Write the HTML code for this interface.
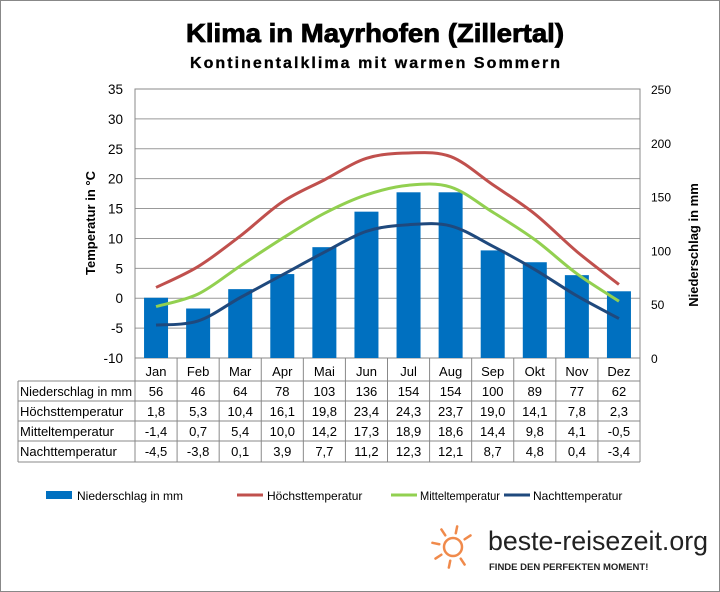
<!DOCTYPE html><html><head><meta charset="utf-8"><style>
body{margin:0;background:#fff;font-family:"Liberation Sans",sans-serif}
#w{position:relative;width:718px;height:590px;border:1px solid #888;overflow:hidden}
</style></head><body><div id="w">
<svg id="s" width="718" height="590" xmlns="http://www.w3.org/2000/svg" font-family="Liberation Sans, sans-serif"></svg>
</div>
<script>
const s=document.getElementById('s');let h='';
const L=134,R=639,T=88,B=357,cw=(R-L)/12;
const ty=t=>B-(t+10)*(B-T)/45, py=p=>B-p*(B-T)/250, cx=i=>L+cw*(i+0.5);
h+=`<text x="374" y="41" font-size="26" font-weight="bold" text-anchor="middle" stroke="#000" stroke-width="0.8" textLength="378" lengthAdjust="spacingAndGlyphs">Klima in Mayrhofen (Zillertal)</text>`;
h+=`<text x="374" y="67" font-size="16" font-weight="bold" text-anchor="middle" textLength="370" lengthAdjust="spacing" stroke="#000" stroke-width="0.3">Kontinentalklima  mit warmen Sommern</text>`;
for(let t=-10;t<=35;t+=5){let y=ty(t);h+=`<line x1="${L}" x2="${R}" y1="${y}" y2="${y}" stroke="#999" stroke-width="1"/>`;
h+=`<text x="122" y="${y+5}" font-size="13.5" text-anchor="end">${t}</text>`;}
for(let p=0;p<=250;p+=50){h+=`<text x="650" y="${py(p)+5}" font-size="12">${p}</text>`;}
h+=`<rect x="${L}" y="${T}" width="${R-L}" height="${B-T}" fill="none" stroke="#888"/>`;
const m=['Jan','Feb','Mar','Apr','Mai','Jun','Jul','Aug','Sep','Okt','Nov','Dez'];
const P=[56,46,64,78,103,136,154,154,100,89,77,62],H=[1.8,5.3,10.4,16.1,19.8,23.4,24.3,23.7,19.0,14.1,7.8,2.3],M=[-1.4,0.7,5.4,10.0,14.2,17.3,18.9,18.6,14.4,9.8,4.1,-0.5],N=[-4.5,-3.8,0.1,3.9,7.7,11.2,12.3,12.1,8.7,4.8,0.4,-3.4];
P.forEach((p,i)=>h+=`<rect x="${cx(i)-12}" y="${py(p)}" width="24" height="${B-py(p)}" fill="#0070c0"/>`);
function cur(a,c){let pts=a.map((v,i)=>[cx(i),ty(v)]);let d=`M${pts[0]}`;for(let i=0;i<pts.length-1;i++){let p0=pts[Math.max(0,i-1)],p1=pts[i],p2=pts[i+1],p3=pts[Math.min(pts.length-1,i+2)];let c1=[p1[0]+(p2[0]-p0[0])/6,p1[1]+(p2[1]-p0[1])/6],c2=[p2[0]-(p3[0]-p1[0])/6,p2[1]-(p3[1]-p1[1])/6];d+=`C${c1} ${c2} ${p2}`;}return `<path d="${d}" fill="none" stroke="${c}" stroke-width="3"/>`;}
h+=cur(H,'#c0504d')+cur(M,'#92d050')+cur(N,'#1f497d');
const rows=[['Niederschlag in mm',P],['Höchsttemperatur',H],['Mitteltemperatur',M],['Nachttemperatur',N]];
const ry=[358,380,400,420,440,461];
for(let i=0;i<=12;i++){let x=L+cw*i;h+=`<line x1="${x}" x2="${x}" y1="${B}" y2="${ry[5]}" stroke="#888"/>`;}
h+=`<line x1="17" x2="17" y1="${ry[1]}" y2="${ry[5]}" stroke="#888"/>`;
for(let j=1;j<6;j++)h+=`<line x1="17" x2="${R}" y1="${ry[j]}" y2="${ry[j]}" stroke="#888"/>`;
m.forEach((t,i)=>h+=`<text x="${cx(i)}" y="375" font-size="13" text-anchor="middle">${t}</text>`);
rows.forEach((r,j)=>{let y=ry[j+1]+15;h+=`<text x="19" y="${y}" font-size="13" ${j==0?'textLength="112" lengthAdjust="spacingAndGlyphs"':''}>${r[0]}</text>`;
r[1].forEach((v,i)=>h+=`<text x="${cx(i)}" y="${y}" font-size="13" text-anchor="middle">${String(v).includes('.')||j==0?String(v).replace('.',','):v+',0'}</text>`);});
h+=`<text transform="translate(94,222) rotate(-90)" font-size="13" font-weight="bold" text-anchor="middle">Temperatur in °C</text>`;
h+=`<text transform="translate(697,244) rotate(-90)" font-size="13" font-weight="bold" text-anchor="middle">Niederschlag in mm</text>`;
h+=`<rect x="45" y="490" width="26" height="8" fill="#0070c0"/><text x="76" y="499" font-size="12">Niederschlag in mm</text>`;
h+=`<line x1="236" x2="262" y1="494" y2="494" stroke="#c0504d" stroke-width="3"/><text x="266" y="499" font-size="12">Höchsttemperatur</text>`;
h+=`<line x1="390" x2="416" y1="494" y2="494" stroke="#92d050" stroke-width="3"/><text x="419" y="499" font-size="12" textLength="80" lengthAdjust="spacingAndGlyphs">Mitteltemperatur</text>`;
h+=`<line x1="503" x2="529" y1="494" y2="494" stroke="#1f497d" stroke-width="3"/><text x="532" y="499" font-size="12">Nachttemperatur</text>`;
let sx=452,sy=546,rays='';for(let k=0;k<8;k++){if(k==2)continue;let a=k*Math.PI/4-Math.PI/2+0.2;rays+=`<line x1="${sx+Math.cos(a)*14}" y1="${sy+Math.sin(a)*14}" x2="${sx+Math.cos(a)*21}" y2="${sy+Math.sin(a)*21}" stroke="#f08a4b" stroke-width="2.5" stroke-linecap="round"/>`;}
h+=rays+`<circle cx="${sx}" cy="${sy}" r="9" fill="none" stroke="#f08a4b" stroke-width="2.5"/>`;
h+=`<text x="487" y="549" font-size="27" fill="#222" textLength="220" lengthAdjust="spacingAndGlyphs">beste-reisezeit.org</text>`;
h+=`<text x="488" y="569" font-size="9.5" font-weight="bold" fill="#222">FINDE DEN PERFEKTEN MOMENT!</text>`;
s.innerHTML=h;
</script></body></html>
